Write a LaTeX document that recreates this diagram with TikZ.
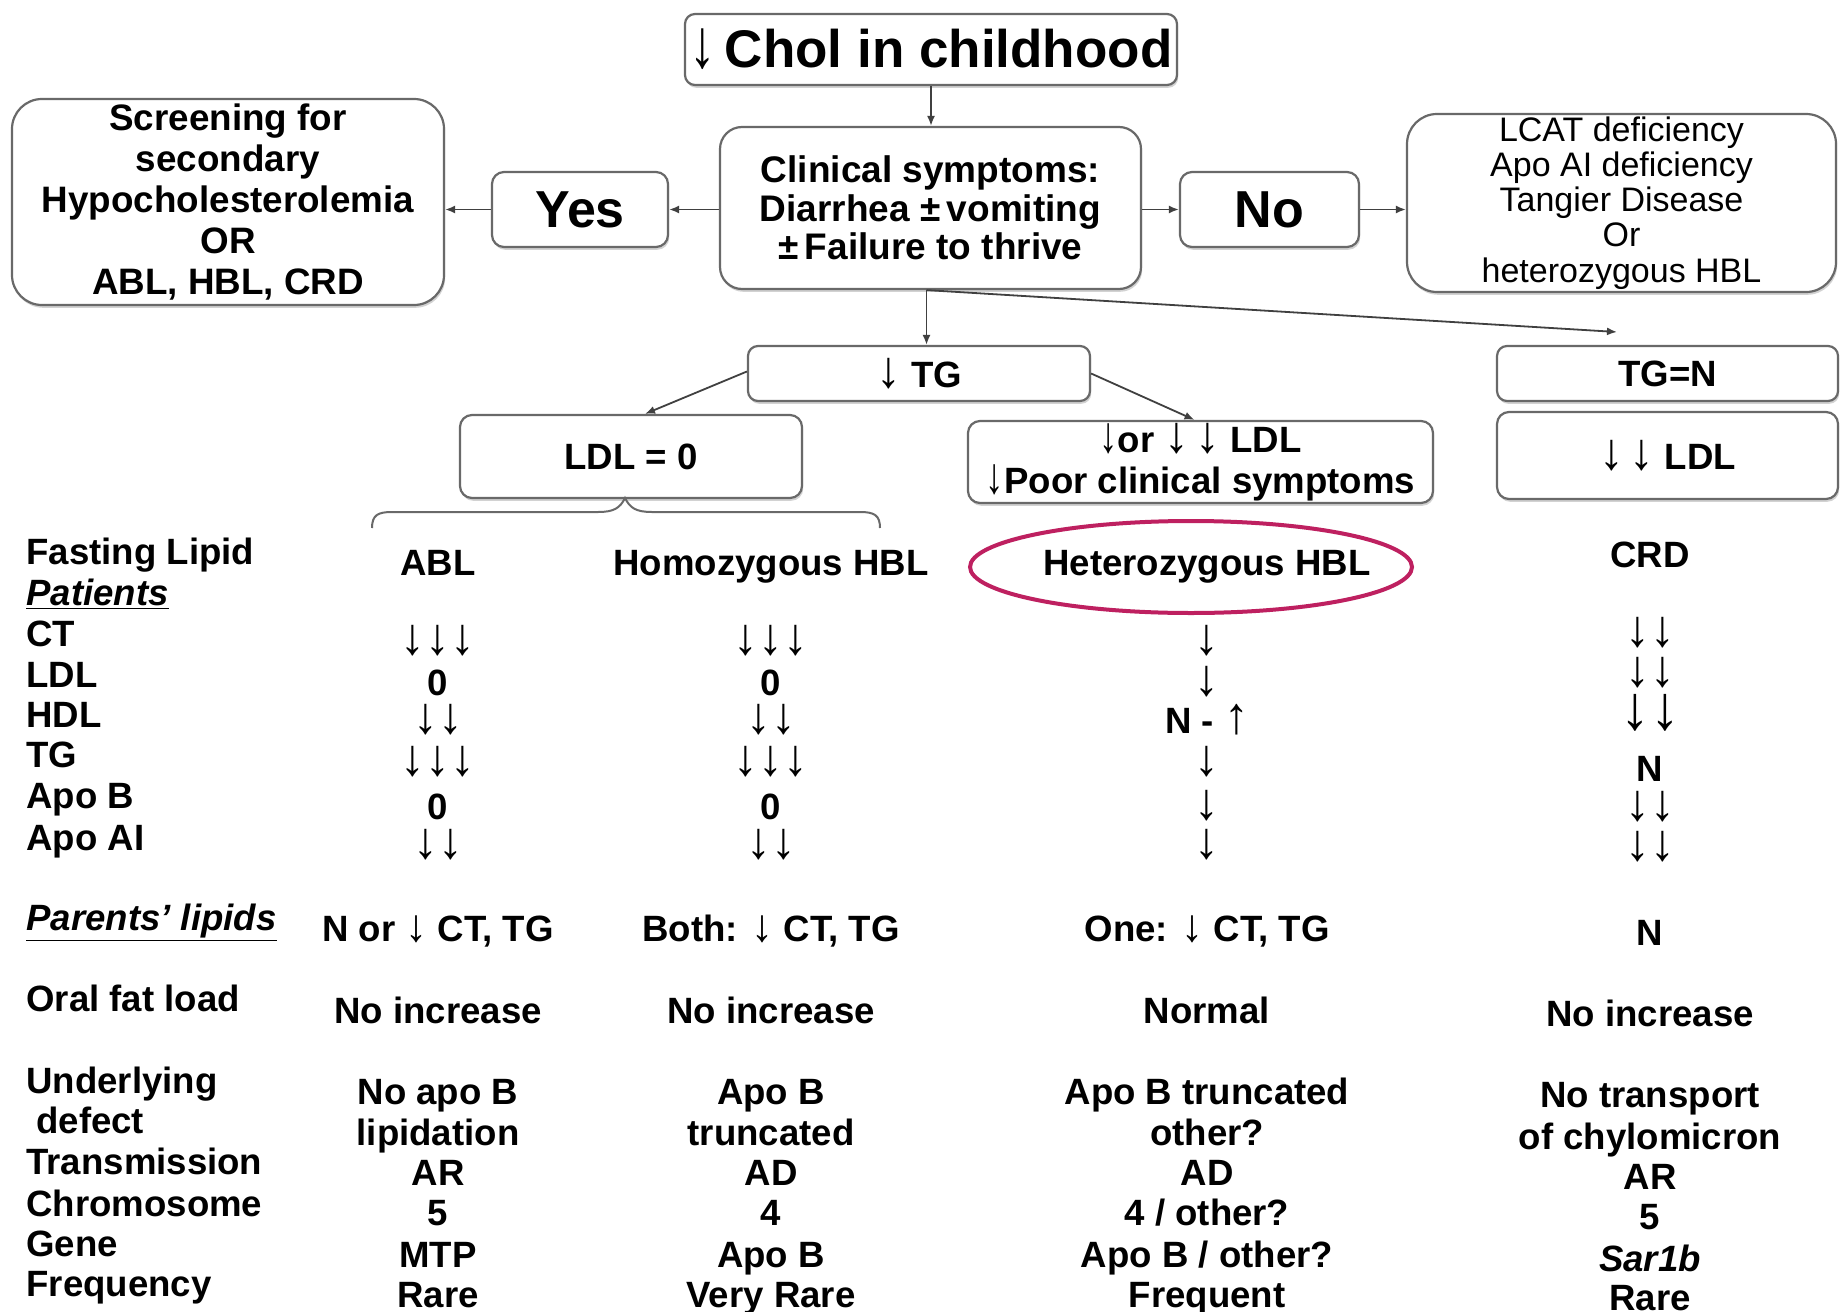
\documentclass[tikz,border=0pt]{standalone}
\usepackage{fontspec}
\usepackage{graphicx}
\setmainfont{Liberation Sans}
\usetikzlibrary{shapes.geometric,arrows.meta,shadows}
\definecolor{crim}{RGB}{190,32,96}
\definecolor{edge}{RGB}{105,105,105}
\newcommand{\dar}{\scalebox{1.35}[1.42]{↓}}
\newcommand{\uar}{\scalebox{1.35}[1.42]{↑}}
\newcommand{\sdar}{\scalebox{1.2}[1.25]{↓}}
\begin{document}
\begin{tikzpicture}[x=0.5pt,y=-0.5pt]
\tikzset{
 bx/.style={draw=edge, line width=1.1pt, fill=white, align=center, inner sep=0pt,
   drop shadow={shadow xshift=0.6pt, shadow yshift=-1.4pt, opacity=0.35}},
 arr/.style={draw=black!75, line width=0.9pt, -{Latex[length=5pt,width=4pt]}},
 val/.style={font=\bfseries\fontsize{18.3}{20.3}\selectfont, anchor=mid, inner sep=0pt, yshift=-4pt},
 lab/.style={font=\bfseries\fontsize{18.3}{20.3}\selectfont, anchor=mid west, inner sep=0pt, yshift=-4pt},
}
\useasboundingbox[fill=white] (0,0) rectangle (1845,1311);

% ---------- flow boxes ----------
\node[bx, rounded corners=5pt, minimum width=246pt, minimum height=35.5pt,
  font=\bfseries\fontsize{26.5}{28}\selectfont] (top) at (931,49.5) {{\mdseries\scalebox{1}[1.3]{↓}}\,Chol in childhood};
\node[bx, rounded corners=11pt, minimum width=210.5pt, minimum height=81pt,
  font=\bfseries\fontsize{18.5}{19.3}\selectfont] (clin) at (930.5,208)
  {Clinical symptoms:\\Diarrhea ±\,vomiting\\±\,Failure to thrive};
\node[bx, rounded corners=6pt, minimum width=88pt, minimum height=37.5pt,
  font=\bfseries\fontsize{26}{28}\selectfont] (yes) at (580,209.5) {Yes};
\node[bx, rounded corners=6pt, minimum width=89.5pt, minimum height=37.5pt,
  font=\bfseries\fontsize{26}{28}\selectfont] (no) at (1269.5,209.5) {No};
\node[bx, rounded corners=15pt, minimum width=216pt, minimum height=103pt,
  font=\bfseries\fontsize{18.4}{20.5}\selectfont] (scr) at (228,202)
  {Screening for\\secondary\\Hypocholesterolemia\\OR\\ABL, HBL, CRD};
\node[bx, rounded corners=15pt, minimum width=214.5pt, minimum height=89pt,
  font=\fontsize{17}{17.6}\selectfont] (lcat) at (1621.5,203)
  {LCAT deficiency\\Apo AI deficiency\\Tangier Disease\\Or\\heterozygous HBL};
\node[bx, rounded corners=5pt, minimum width=171pt, minimum height=27.5pt,
  font=\bfseries\fontsize{18.3}{20}\selectfont] (tg) at (919,373.5) {\dar\ TG};
\node[bx, rounded corners=5pt, minimum width=170.5pt, minimum height=27.5pt,
  font=\bfseries\fontsize{18.3}{20}\selectfont] (tgn) at (1667.5,373.5) {TG=N};
\node[bx, rounded corners=6pt, minimum width=171pt, minimum height=41.5pt,
  font=\bfseries\fontsize{18.3}{20}\selectfont] (ldlz) at (631,456.5) {LDL = 0};
\node[bx, rounded corners=6pt, minimum width=232.5pt, minimum height=41pt,
  font=\bfseries\fontsize{18.3}{20.5}\selectfont] (ldlor) at (1200.5,462)
  {{\mdseries\scalebox{1}[1.4]{↓}}or \dar\,\dar\ LDL\\{\mdseries\scalebox{1}[1.4]{↓}}Poor clinical symptoms};
\node[bx, rounded corners=6pt, minimum width=170.5pt, minimum height=43.5pt,
  font=\bfseries\fontsize{18.3}{20}\selectfont] (ldltwo) at (1667.5,455.5) {\dar\,\dar\ LDL};

% ---------- connectors ----------
\draw[arr] (top.south) -- (top.south |- clin.north);
\draw[arr] (clin.west |- yes.east) -- (yes.east);
\draw[arr] (yes.west) -- (yes.west -| scr.east);
\draw[arr] (clin.east |- no.west) -- (no.west);
\draw[arr] (no.east) -- (no.east -| lcat.west);
\draw[arr] ([xshift=-2pt]clin.south) -- ([xshift=-2pt]clin.south |- tg.north);
\coordinate (tgnin) at (1617,332);
\draw[arr] ([xshift=-2pt]clin.south) -- (tgnin);
\draw[arr] ([yshift=1pt]tg.west) -- ([xshift=7pt]ldlz.north);
\draw[arr] (tg.east) -- ([xshift=-3pt]ldlor.north);

% brace under LDL = 0
\draw[edge, line width=1pt] (372,528) .. controls (372,515) and (378,512) .. (392,512)
  -- (598,512) .. controls (614,512) and (620,508) .. (625,498)
  .. controls (630,508) and (636,512) .. (652,512) -- (860,512)
  .. controls (874,512) and (880,515) .. (880,528);

% highlight ellipse
\draw[crim, line width=2pt] (1191,567) ellipse [x radius=221, y radius=46];

% ---------- row labels ----------
\node[lab] (lfl) at (26,551) {Fasting Lipid};
\node[lab] (lpat) at (26,592) {\underline{\itshape Patients}};
\node[lab] (lct) at (26,633) {CT};
\node[lab] (lldl) at (26,674) {LDL};
\node[lab] (lhdl) at (26,714) {HDL};
\node[lab] (ltg) at (26,754) {TG};
\node[lab] (lab) at (26,795) {Apo B};
\node[lab] (laa) at (26,837) {Apo AI};
\node[lab] (lpar) at (26,917) {\underline{\itshape Parents' lipids}};
\node[lab] (lor) at (26,998) {Oral fat load};
\node[lab] (lu1) at (26,1080) {Underlying};
\node[lab] (lu2) at (36,1120) {defect};
\node[lab] (ltr) at (26,1161) {Transmission};
\node[lab] (lch) at (26,1203) {Chromosome};
\node[lab] (lge) at (26,1243) {Gene};
\node[lab] (lfr) at (26,1283) {Frequency};

% ---------- ABL column ----------
\node[val] (a0) at (438,562) {ABL};
\node[val] (a1) at (438,641) {\dar\dar\dar};
\node[val] (a2) at (438,682) {0};
\node[val] (a3) at (438,720) {\dar\dar};
\node[val] (a4) at (438,762) {\dar\dar\dar};
\node[val] (a5) at (438,806) {0};
\node[val] (a6) at (438,845) {\dar\dar};
\node[val] (a7) at (438,928) {N or \sdar\ CT, TG};
\node[val] (a8) at (438,1010) {No increase};
\node[val] (a9) at (438,1091) {No apo B};
\node[val] (a10) at (438,1132) {lipidation};
\node[val] (a11) at (438,1172) {AR};
\node[val] (a12) at (438,1212) {5};
\node[val] (a13) at (438,1254) {MTP};
\node[val] (a14) at (438,1294) {Rare};

% ---------- Homozygous HBL column ----------
\node[val] (b0) at (771,562) {Homozygous HBL};
\node[val] (b1) at (771,641) {\dar\dar\dar};
\node[val] (b2) at (771,682) {0};
\node[val] (b3) at (771,720) {\dar\dar};
\node[val] (b4) at (771,762) {\dar\dar\dar};
\node[val] (b5) at (771,806) {0};
\node[val] (b6) at (771,845) {\dar\dar};
\node[val] (b7) at (771,928) {Both: \sdar\ CT, TG};
\node[val] (b8) at (771,1010) {No increase};
\node[val] (b9) at (771,1091) {Apo B};
\node[val] (b10) at (771,1132) {truncated};
\node[val] (b11) at (771,1172) {AD};
\node[val] (b12) at (771,1212) {4};
\node[val] (b13) at (771,1254) {Apo B};
\node[val] (b14) at (771,1294) {Very Rare};

% ---------- Heterozygous HBL column ----------
\node[val] (c0) at (1207,562) {Heterozygous HBL};
\node[val] (c1) at (1207,641) {\dar};
\node[val] (c2) at (1207,682) {\dar};
\node[val] (c3) at (1207,720) {N - \uar};
\node[val] (c4) at (1207,762) {\dar};
\node[val] (c5) at (1207,806) {\dar};
\node[val] (c6) at (1207,845) {\dar};
\node[val] (c7) at (1207,928) {One: \sdar\ CT, TG};
\node[val] (c8) at (1207,1010) {Normal};
\node[val] (c9) at (1207,1091) {Apo B truncated};
\node[val] (c10) at (1207,1132) {other?};
\node[val] (c11) at (1207,1172) {AD};
\node[val] (c12) at (1207,1212) {4 / other?};
\node[val] (c13) at (1207,1254) {Apo B / other?};
\node[val] (c14) at (1207,1294) {Frequent};

% ---------- CRD column ----------
\node[val] (d0) at (1650,554) {CRD};
\node[val] (d1) at (1650,633) {\dar\dar};
\node[val] (d2) at (1650,673) {\dar\dar};
\node[val, font=\bfseries\fontsize{22}{26}\selectfont] (d3) at (1650,716) {\dar\dar};
\node[val] (d4) at (1650,768) {N};
\node[val] (d5) at (1650,807) {\dar\dar};
\node[val] (d6) at (1650,847) {\dar\dar};
\node[val] (d7) at (1650,932) {N};
\node[val] (d8) at (1650,1013) {No increase};
\node[val] (d9) at (1650,1094) {No transport};
\node[val] (d10) at (1650,1136) {of chylomicron};
\node[val] (d11) at (1650,1176) {AR};
\node[val] (d12) at (1650,1216) {5};
\node[val] (d13) at (1650,1258) {\itshape Sar1b};
\node[val] (d14) at (1650,1297) {Rare};
\end{tikzpicture}
\end{document}
